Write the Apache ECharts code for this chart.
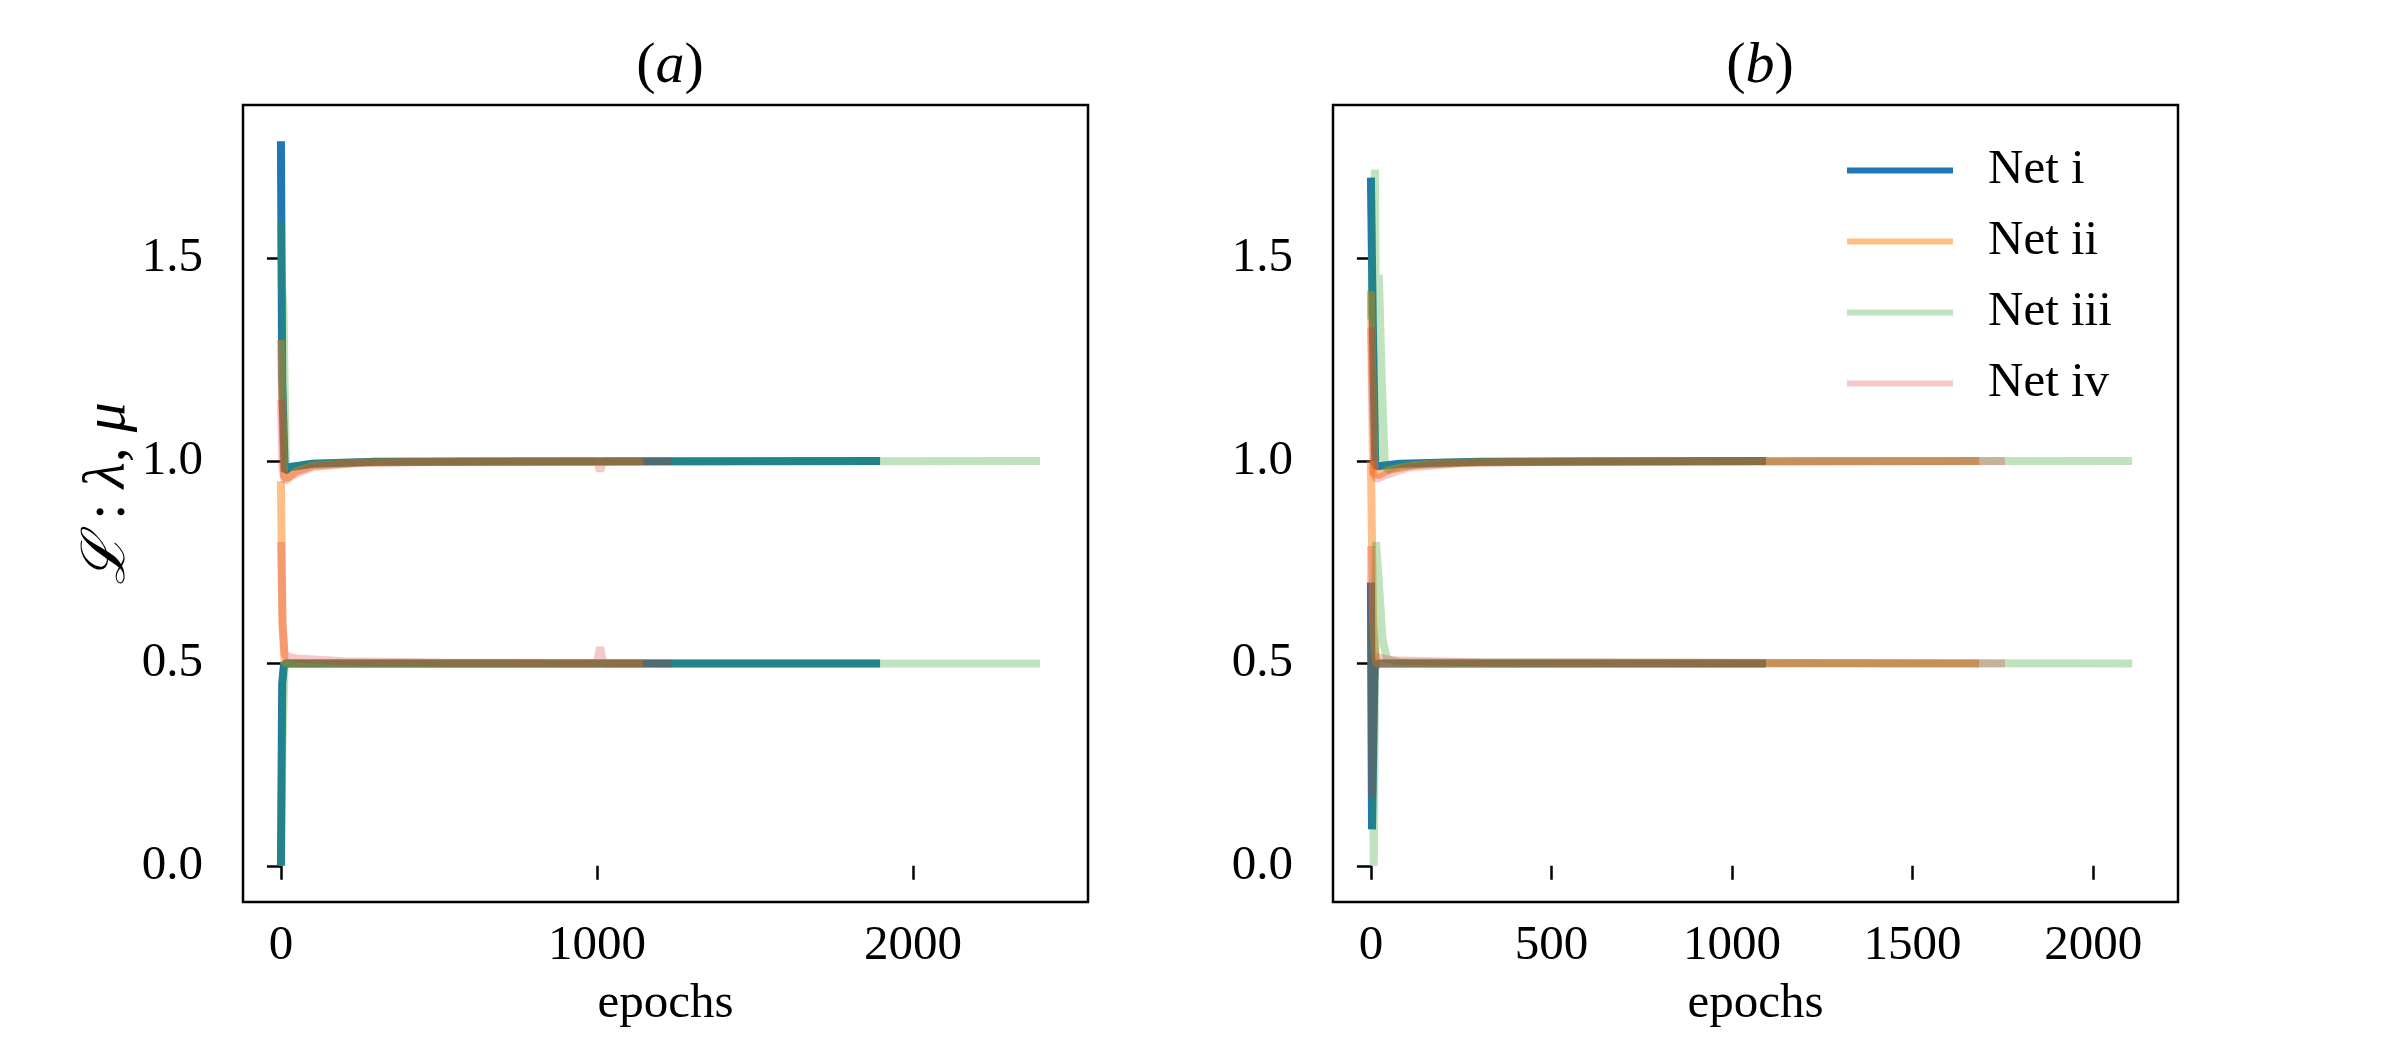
<!DOCTYPE html>
<html lang="en">
<head>
  <meta charset="utf-8">
  <title>Chart</title>
  <script src="https://cdn.jsdelivr.net/npm/echarts@6.0.0/dist/echarts.min.js"></script>
  <style>
    html, body { margin: 0; padding: 0; background: #fff; }
  </style>
</head>
<body>
<div id="main" style="width: 2400px; height: 1050px;"></div>
<script type="text/javascript">
    // legend names, tick values
    var netNames = ['Net i', 'Net ii', 'Net iii', 'Net iv'];
    var xTicksA = [0, 1000, 2000];
    var xTicksB = [0, 500, 1000, 1500, 2000];
    var yTicks = [0, 0.5, 1.0, 1.5];

    // panel (a): [epoch, value], lambda -> 1.0, mu -> 0.5
    var aLam1 = [[0, 1.79], [4, 1.20], [12, 0.975], [30, 0.985], [100, 0.993], [300, 0.998], [1896, 1.0]];
    var aMu1 = [[0, 0.0], [4, 0.45], [10, 0.50], [1896, 0.50]];
    var aLam2 = [[0, 1.30], [4, 1.15], [10, 0.96], [20, 0.958], [50, 0.975], [100, 0.988], [250, 0.996], [600, 0.999], [1146, 1.0]];
    var aMu2 = [[0, 0.95], [5, 0.60], [12, 0.50], [1146, 0.50]];
    var aLam3 = [[0, 1.59], [3, 1.44], [8, 1.38], [16, 0.975], [30, 0.985], [100, 0.993], [300, 0.998], [2402, 1.0]];
    var aMu3 = [[0, 0.0], [5, 0.30], [12, 0.50], [2402, 0.50]];
    var aLam4 = [[0, 1.15], [5, 0.98], [12, 0.95], [40, 0.965], [100, 0.985], [250, 0.995], [600, 0.999], [1000, 0.999], [1010, 0.975], [1020, 0.999], [1237, 1.0]];
    var aMu4 = [[0, 0.80], [5, 0.60], [12, 0.52], [50, 0.512], [200, 0.505], [500, 0.502], [1000, 0.501], [1010, 0.54], [1020, 0.501], [1237, 0.50]];

    // panel (b)
    var bLam1 = [[0, 1.70], [5, 1.35], [12, 0.99], [20, 0.987], [80, 0.993], [300, 0.998], [1094, 1.0]];
    var bMu1 = [[0, 0.70], [3, 0.09], [10, 0.49], [20, 0.50], [1094, 0.50]];
    var bLam2 = [[0, 1.42], [4, 1.20], [10, 0.97], [20, 0.965], [50, 0.978], [120, 0.99], [300, 0.997], [700, 0.999], [1684, 1.0]];
    var bMu2 = [[0, 1.00], [6, 0.60], [14, 0.50], [1684, 0.50]];
    var bLam3 = [[0, 1.35], [11, 1.72], [16, 1.00], [22, 1.46], [30, 1.20], [38, 1.00], [45, 0.978], [80, 0.988], [200, 0.996], [500, 0.999], [2108, 1.0]];
    var bMu3 = [[0, 0.60], [8, 0.0], [14, 0.80], [22, 0.70], [32, 0.56], [45, 0.51], [80, 0.503], [2108, 0.50]];
    var bLam4 = [[0, 1.33], [6, 0.97], [15, 0.955], [40, 0.965], [100, 0.983], [250, 0.995], [600, 0.999], [1756, 1.0]];
    var bMu4 = [[0, 0.79], [3, 0.17], [8, 0.45], [15, 0.515], [60, 0.508], [300, 0.503], [1756, 0.50]];

    var panelA = [[aLam1, aMu1], [aLam2, aMu2], [aLam3, aMu3], [aLam4, aMu4]];
    var panelB = [[bLam1, bMu1], [bLam2, bMu2], [bLam3, bMu3], [bLam4, bMu4]];

    var netColors = ['#1f77b4', 'rgba(255,127,14,0.5)', 'rgba(44,160,44,0.3)', 'rgba(214,39,40,0.25)'];
    var serif = 'Liberation Serif, DejaVu Serif, serif';
    var fs = 49;

    var myChart = echarts.init(document.getElementById('main'));

    function makeX(idx, min, max, ticks) {
        return {
            type: 'value', gridIndex: idx, min: min, max: max,
            name: 'epochs', nameLocation: 'middle', nameGap: 78,
            nameTextStyle: {fontFamily: serif, fontSize: fs, color: '#000'},
            axisLine: {show: false},
            splitLine: {show: false},
            axisTick: {show: true, inside: false, length: 14, customValues: ticks,
                lineStyle: {color: '#000', width: 2.5}},
            axisLabel: {show: true, margin: 20, customValues: ticks,
                formatter: function (v) { return String(v); },
                fontFamily: serif, fontSize: fs, color: '#000'}
        };
    }

    function makeY(idx, withName) {
        var y = {
            type: 'value', gridIndex: idx, min: -0.0895, max: 1.8795,
            axisLine: {show: false},
            splitLine: {show: false},
            axisTick: {show: true, inside: false, length: 14, customValues: yTicks,
                lineStyle: {color: '#000', width: 2.5}},
            axisLabel: {show: true, margin: 40, customValues: yTicks,
                formatter: function (v) { return v.toFixed(1); },
                fontFamily: serif, fontSize: fs, color: '#000'}
        };
        if (withName) {
            y.name = '{s|ℒ} : {g|λ}, {g|μ}';
            y.nameLocation = 'middle';
            y.nameGap = 104;
            y.nameTextStyle = {
                fontFamily: serif, fontSize: 60, color: '#000',
                padding: [0, 0, 0, 20],
                rich: {
                    s: {fontFamily: serif, fontSize: 60, fontStyle: 'italic', color: '#000'},
                    g: {fontFamily: serif, fontSize: 60, fontStyle: 'italic', color: '#000'}
                }
            };
        }
        return y;
    }

    var series = [];
    [panelA, panelB].forEach(function (panel, p) {
        panel.forEach(function (curves, n) {
            curves.forEach(function (pts) {
                series.push({
                    name: netNames[n],
                    type: 'line',
                    xAxisIndex: p,
                    yAxisIndex: p,
                    symbol: 'none',
                    showSymbol: false,
                    silent: true,
                    itemStyle: {color: netColors[n]},
                    lineStyle: {color: netColors[n], width: 8},
                    data: pts
                });
            });
        });
    });

    var titleRich = {
        p: {fontFamily: serif, fontSize: 58, fontWeight: 'normal', color: '#000'},
        i: {fontFamily: serif, fontSize: 58, fontWeight: 'normal', fontStyle: 'italic', color: '#000'}
    };

    var option = {
        animation: false,
        backgroundColor: '#fff',
        title: [{
            text: '{p|(}{i|a}{p|)}', left: 665, top: 33, textAlign: 'center',
            textStyle: {fontWeight: 'normal', rich: titleRich}
        }, {
            text: '{p|(}{i|b}{p|)}', left: 1755, top: 33, textAlign: 'center',
            textStyle: {fontWeight: 'normal', rich: titleRich}
        }],
        legend: {
            data: netNames,
            orient: 'vertical',
            left: 1842,
            top: 141,
            icon: 'rect',
            itemWidth: 106,
            itemHeight: 6,
            itemGap: 22,
            selectedMode: false,
            textStyle: {fontFamily: serif, fontSize: fs, lineHeight: 46, color: '#000', padding: [0, 0, 0, 30]}
        },
        grid: [
            {left: 243, top: 105, width: 845, height: 797, show: true, borderColor: '#000', borderWidth: 2.5, outerBoundsMode: 'none'},
            {left: 1333, top: 105, width: 845, height: 797, show: true, borderColor: '#000', borderWidth: 2.5, outerBoundsMode: 'none'}
        ],
        xAxis: [makeX(0, -120, 2554, xTicksA), makeX(1, -105, 2235, xTicksB)],
        yAxis: [makeY(0, true), makeY(1, false)],
        series: series
    };

    myChart.setOption(option);
</script>
</body>
</html>
